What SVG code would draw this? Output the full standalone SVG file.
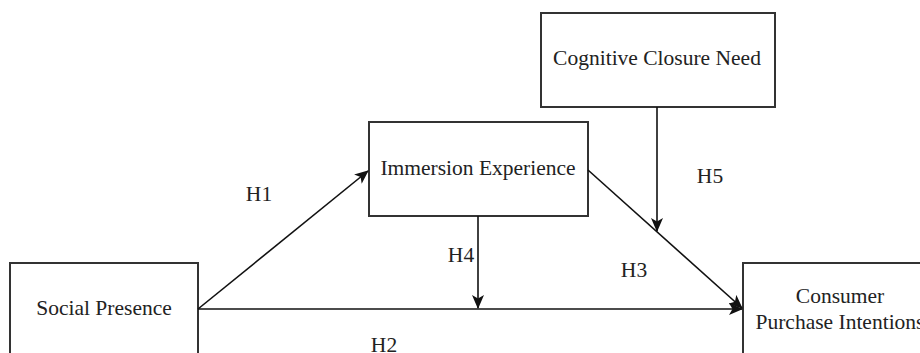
<svg xmlns="http://www.w3.org/2000/svg" width="920" height="353" viewBox="0 0 920 353">
<style>
.box{fill:#ffffff;stroke:#333333;stroke-width:2}
.lbl{font-family:"Liberation Serif","Times New Roman",serif;font-size:21.5px;fill:#222222}
.edge{fill:none;stroke:#111111;stroke-width:1.6}
</style>
<defs>
<marker id="arr" viewBox="0 0 14 12" refX="13" refY="6" markerWidth="14" markerHeight="12" markerUnits="userSpaceOnUse" orient="auto">
<path d="M0,0 L14,6 L0,12 L3.5,6 Z" fill="#111111"/>
</marker>
</defs>
<rect width="920" height="353" fill="#ffffff"/>
<g id="social-presence">
<rect class="box" x="10" y="263" width="188" height="110"/>
<text class="lbl" x="104" y="315" text-anchor="middle">Social Presence</text>
</g>
<g id="consumer-purchase-intentions">
<rect class="box" x="743" y="263" width="200" height="110"/>
<text class="lbl" x="840" y="303" text-anchor="middle">Consumer</text>
<text class="lbl" x="840" y="329" text-anchor="middle">Purchase Intentions</text>
</g>
<g id="immersion-experience">
<rect class="box" x="369" y="122" width="219" height="94"/>
<text class="lbl" x="478" y="175" text-anchor="middle">Immersion Experience</text>
</g>
<g id="cognitive-closure-need">
<rect class="box" x="541" y="13" width="234" height="94"/>
<text class="lbl" x="657" y="65" text-anchor="middle">Cognitive Closure Need</text>
</g>
<g id="connectors">
<line class="edge" x1="198" y1="309" x2="368" y2="171" marker-end="url(#arr)"/>
<line class="edge" x1="198" y1="309" x2="742" y2="309" marker-end="url(#arr)"/>
<line class="edge" x1="478" y1="216" x2="478" y2="308" marker-end="url(#arr)"/>
<line class="edge" x1="588" y1="170" x2="742" y2="308" marker-end="url(#arr)"/>
<line class="edge" x1="657" y1="107" x2="657" y2="231" marker-end="url(#arr)"/>
<text class="lbl" x="259" y="201" text-anchor="middle">H1</text>
<text class="lbl" x="384" y="352" text-anchor="middle">H2</text>
<text class="lbl" x="634" y="277" text-anchor="middle">H3</text>
<text class="lbl" x="461" y="262" text-anchor="middle">H4</text>
<text class="lbl" x="710" y="183" text-anchor="middle">H5</text>
</g>
</svg>
